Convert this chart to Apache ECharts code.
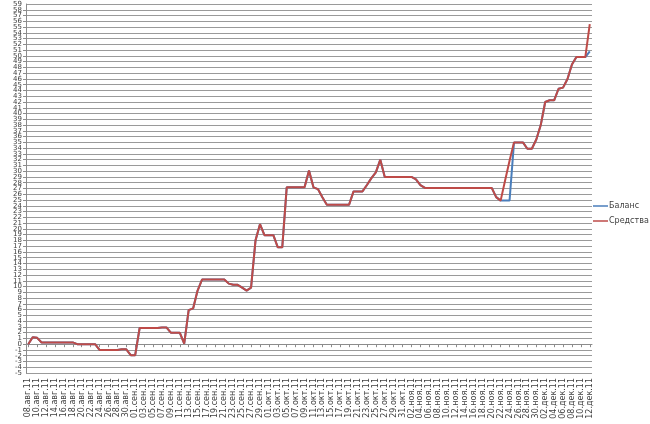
<!DOCTYPE html>
<html>
<head>
<meta charset="utf-8">
<script src="https://cdn.jsdelivr.net/npm/echarts@6/dist/echarts.min.js"></script>
<style>
  html, body { margin: 0; padding: 0; background: #fff; }
  #chart { width: 650px; height: 424px; }
</style>
</head>
<body>
<div id="chart"></div>
<script>
// даты: ежедневно с 08.авг.11 по 12.дек.11
const startDate = [2011, 7, 8]
const dayCount = 127
const monthNames = ['янв', 'фев', 'мар', 'апр', 'май', 'июн', 'июл', 'авг', 'сен', 'окт', 'ноя', 'дек']

// Баланс
const balance = [
  0, 1.2, 1.1, 0.3, 0.3, 0.3, 0.3, 0.3, 0.3, 0.3,
  0.3, 0, 0, 0, 0, 0, -1.0, -1.0, -1.0, -1.0,
  -1.0, -0.9, -0.9, -1.9, -1.9, 2.8, 2.8, 2.8, 2.8, 2.8,
  2.9, 2.9, 2.0, 2.0, 2.0, 0.1, 5.9, 6.2, 9.3, 11.2,
  11.2, 11.2, 11.2, 11.2, 11.2, 10.5, 10.3, 10.3, 9.8, 9.3,
  9.8, 18.0, 20.8, 18.9, 18.9, 18.9, 16.8, 16.8, 27.2, 27.2,
  27.2, 27.2, 27.2, 30.1, 27.2, 26.9, 25.5, 24.2, 24.2, 24.2,
  24.2, 24.2, 24.2, 26.5, 26.5, 26.5, 27.6, 28.8, 29.8, 32.0,
  29.0, 29.0, 29.0, 29.0, 29.0, 29.0, 29.0, 28.6, 27.6, 27.1,
  27.1, 27.1, 27.1, 27.1, 27.1, 27.1, 27.1, 27.1, 27.1, 27.1,
  27.1, 27.1, 27.1, 27.1, 27.1, 25.5, 24.9, 24.9, 24.9, 35.0,
  35.0, 35.0, 33.9, 33.9, 35.5, 38.0, 42.0, 42.3, 42.3, 44.3,
  44.5, 46.0, 48.5, 49.8, 49.8, 49.8, 50.8
]

// Средства
const funds = [
  0, 1.2, 1.1, 0.3, 0.3, 0.3, 0.3, 0.3, 0.3, 0.3,
  0.3, 0, 0, 0, 0, 0, -1.0, -1.0, -1.0, -1.0,
  -1.0, -0.9, -0.9, -1.9, -1.9, 2.8, 2.8, 2.8, 2.8, 2.8,
  2.9, 2.9, 2.0, 2.0, 2.0, 0.1, 5.9, 6.2, 9.3, 11.2,
  11.2, 11.2, 11.2, 11.2, 11.2, 10.5, 10.3, 10.3, 9.8, 9.3,
  9.8, 18.0, 20.8, 18.9, 18.9, 18.9, 16.8, 16.8, 27.2, 27.2,
  27.2, 27.2, 27.2, 30.1, 27.2, 26.9, 25.5, 24.2, 24.2, 24.2,
  24.2, 24.2, 24.2, 26.5, 26.5, 26.5, 27.6, 28.8, 29.8, 32.0,
  29.0, 29.0, 29.0, 29.0, 29.0, 29.0, 29.0, 28.6, 27.6, 27.1,
  27.1, 27.1, 27.1, 27.1, 27.1, 27.1, 27.1, 27.1, 27.1, 27.1,
  27.1, 27.1, 27.1, 27.1, 27.1, 25.5, 24.9, 28.4, 31.8, 35.0,
  35.0, 35.0, 33.9, 33.9, 35.5, 38.0, 42.0, 42.3, 42.3, 44.3,
  44.5, 46.0, 48.5, 49.8, 49.8, 49.8, 55.5
]

const seriesNames = ['Баланс', 'Средства']
const seriesColors = ['#4A7EBB', '#BE4B48']
const yMin = -5
const yMax = 59

const categories = []
for (let i = 0; i < dayCount; i++) {
  const d = new Date(startDate[0], startDate[1], startDate[2] + i)
  const dd = String(d.getDate()).padStart(2, '0')
  const yy = String(d.getFullYear()).slice(2)
  categories.push(dd + '.' + monthNames[d.getMonth()] + '.' + yy)
}

const font = 'DejaVu Sans'
const chart = echarts.init(document.getElementById('chart'))

const yLabel = { fontSize: 7, color: '#404040', margin: 4 }

chart.setOption({
  animation: false,
  backgroundColor: '#fff',
  color: seriesColors,
  textStyle: { fontFamily: font },
  grid: { left: 26, right: 58, top: 4, bottom: 51 },
  legend: {
    orient: 'vertical',
    left: 588,
    top: 197,
    itemWidth: 15,
    itemHeight: 1.5,
    itemGap: 7,
    icon: 'rect',
    selectedMode: false,
    textStyle: { fontSize: 8, color: '#404040', padding: [0, 0, 0, -4] },
    data: seriesNames
  },
  xAxis: [
    {
      // подписи дат внизу
      type: 'category',
      data: categories,
      boundaryGap: true,
      position: 'bottom',
      axisLine: { show: false, onZero: false },
      axisTick: { show: false },
      splitLine: { show: false },
      axisLabel: {
        interval: 1,
        rotate: 90,
        fontSize: 8,
        color: '#404040',
        margin: 5
      }
    },
    {
      // линия оси на нуле
      type: 'category',
      data: categories,
      boundaryGap: true,
      position: 'bottom',
      axisLine: { show: true, onZero: true, lineStyle: { color: '#8c8c8c', width: 1 } },
      axisTick: { show: true, interval: 1, alignWithLabel: true, length: 3, lineStyle: { color: '#8c8c8c' } },
      axisLabel: { show: false },
      splitLine: { show: false }
    }
  ],
  yAxis: [
    {
      type: 'value',
      min: yMin,
      max: yMax,
      interval: 1,
      axisLine: { show: true, lineStyle: { color: '#8c8c8c' } },
      axisTick: { show: true, length: 3, lineStyle: { color: '#8c8c8c' } },
      axisLabel: yLabel,
      splitLine: { show: true, lineStyle: { color: '#9a9a9a', width: 1 } }
    },
    {
      // крайние подписи (59 и -5), которые ECharts скрывает при наложении
      type: 'value',
      position: 'left',
      min: yMin,
      max: yMax,
      interval: 1,
      axisLine: { show: false },
      axisTick: { show: false },
      splitLine: { show: false },
      axisLabel: Object.assign({}, yLabel, {
        showMaxLabel: true,
        showMinLabel: true,
        formatter: v => (v === yMax || v === yMin) ? String(v) : ''
      })
    }
  ],
  series: [
    {
      name: seriesNames[0],
      type: 'line',
      xAxisIndex: 0,
      yAxisIndex: 0,
      data: balance,
      showSymbol: false,
      lineStyle: { width: 2, color: seriesColors[0] }
    },
    {
      name: seriesNames[1],
      type: 'line',
      xAxisIndex: 0,
      yAxisIndex: 0,
      data: funds,
      showSymbol: false,
      lineStyle: { width: 2, color: seriesColors[1] }
    }
  ]
})
</script>
</body>
</html>
